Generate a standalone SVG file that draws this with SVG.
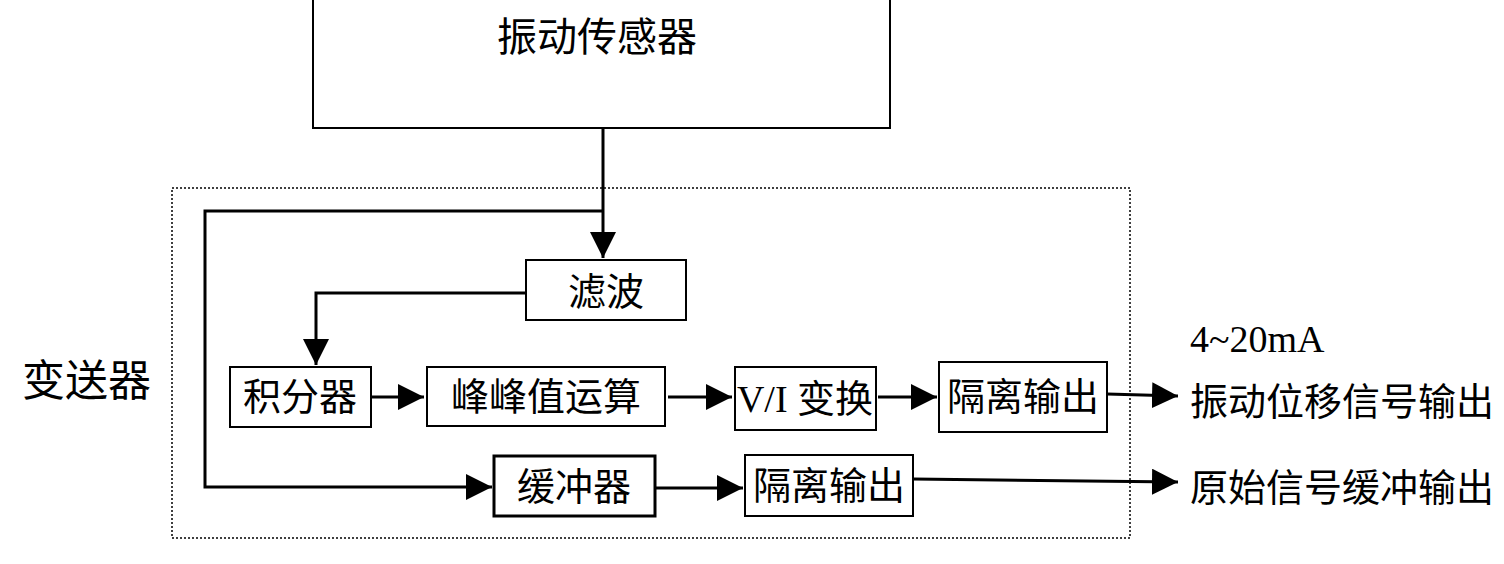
<svg xmlns="http://www.w3.org/2000/svg" width="1504" height="564" viewBox="0 0 1504 564">
<style>
.box{fill:#fff;stroke:#000;stroke-width:2}
.thick{stroke-width:3}
.t{font-family:"Liberation Serif","Noto Sans CJK SC",serif;font-size:38px;fill:#000;text-anchor:middle;dominant-baseline:central}
.tl{font-family:"Liberation Serif","Noto Sans CJK SC",serif;font-size:37px;fill:#000;dominant-baseline:central}
.c{fill:none;stroke:#000;stroke-width:3}
</style>
<defs>
<marker id="ah" markerUnits="userSpaceOnUse" markerWidth="26" markerHeight="26" viewBox="0 0 24 24" refX="24" refY="12" orient="auto">
<path d="M0,0 L24,12 L0,24 Z" fill="#000"/>
</marker>
</defs>
<rect id="boundary" x="172" y="188" width="958" height="350" fill="none" stroke="#000" stroke-width="1.5" stroke-dasharray="2,2"/>
<g id="sensor"><rect class="box" x="313" y="-5" width="577" height="133" stroke-width="1.5"/><text class="t" x="597" y="37" style="font-size:40px">振动传感器</text></g>
<g id="filter"><rect class="box" x="526" y="260" width="160" height="60"/><text class="t" x="606" y="292">滤波</text></g>
<g id="integrator"><rect class="box" x="230" y="367" width="141" height="60"/><text class="t" x="300" y="397">积分器</text></g>
<g id="peak"><rect class="box" x="427" y="367" width="238" height="59"/><text class="t" x="546" y="397">峰峰值运算</text></g>
<g id="vi"><rect class="box" x="735" y="367" width="141" height="63"/><text class="t" x="805" y="399">V/I 变换</text></g>
<g id="iso1"><rect class="box" x="939" y="362" width="168" height="70"/><text class="t" x="1023" y="397">隔离输出</text></g>
<g id="buffer"><rect class="box thick" x="494" y="456" width="161" height="60"/><text class="t" x="574" y="487">缓冲器</text></g>
<g id="iso2"><rect class="box" x="745" y="455" width="168" height="61"/><text class="t" x="829" y="486">隔离输出</text></g>
<g id="labels">
<text class="tl" x="22" y="381" style="font-size:43px">变送器</text>
<text x="1190" y="352" style="font-family:'Liberation Serif',serif;font-size:38px">4~20mA</text>
<text class="tl" x="1190" y="402" style="font-size:38px">振动位移信号输出</text>
<text class="tl" x="1190" y="488" style="font-size:38px">原始信号缓冲输出</text>
</g>
<g id="connectors">
<path class="c" d="M603,128 V258" marker-end="url(#ah)"/>
<path class="c" d="M603,211 H205 V487 H492" marker-end="url(#ah)"/>
<path class="c" d="M526,293 H316 V365" marker-end="url(#ah)"/>
<path class="c" d="M371,397 H424" marker-end="url(#ah)"/>
<path class="c" d="M668,397 H732" marker-end="url(#ah)"/>
<path class="c" d="M878,397 H937" marker-end="url(#ah)"/>
<path class="c" d="M1107,394 L1178,396" marker-end="url(#ah)"/>
<path class="c" d="M655,488 H743" marker-end="url(#ah)"/>
<path class="c" d="M913,479 L1178,482" marker-end="url(#ah)"/>
</g>
</svg>
